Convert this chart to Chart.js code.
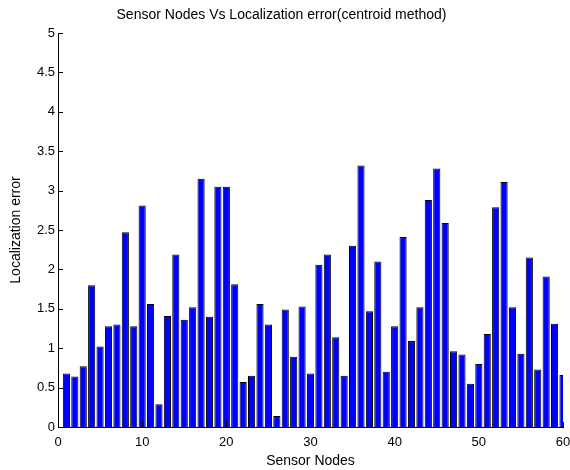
<!DOCTYPE html>
<html>
<head>
<meta charset="utf-8">
<script src="https://cdn.jsdelivr.net/npm/chart.js@4"></script>
<style>
  html, body { margin: 0; padding: 0; background: #fff; }
  #wrap { width: 570px; height: 470px; }
</style>
</head>
<body>
<div id="wrap"><canvas id="errChart" width="570" height="470"></canvas></div>
<script>
// sensor node numbers
const nodes = [];
for (let i = 1; i <= 60; i++) nodes.push(i);

// localization error per node
const errors = [
    0.68, 0.64, 0.77, 1.80, 1.02, 1.28, 1.30, 2.47, 1.28, 2.81,
    1.56, 0.29, 1.41, 2.19, 1.36, 1.52, 3.15, 1.40, 3.05, 3.05,
    1.81, 0.57, 0.65, 1.56, 1.30, 0.14, 1.49, 0.89, 1.53, 0.68,
    2.06, 2.19, 1.14, 0.65, 2.30, 3.32, 1.47, 2.10, 0.70, 1.28,
    2.41, 1.09, 1.52, 2.88, 3.28, 2.59, 0.96, 0.92, 0.55, 0.80,
    1.18, 2.79, 3.11, 1.52, 0.93, 2.15, 0.73, 1.91, 1.31, 0.66
];

const xTicks = [0, 10, 20, 30, 40, 50, 60];
const yTicks = [0, 0.5, 1, 1.5, 2, 2.5, 3, 3.5, 4, 4.5, 5];

const fontFamily = "'Liberation Sans', Arial, sans-serif";

// MATLAB style ticks pointing into the plot
const inwardTicks = {
    id: "inwardTicks",
    afterDatasetsDraw(chart) {
        const ctx = chart.ctx;
        const area = chart.chartArea;
        const xs = chart.scales.x;
        const ys = chart.scales.y;
        ctx.save();
        ctx.strokeStyle = "#000";
        ctx.lineWidth = 1;
        ctx.beginPath();
        yTicks.forEach(v => {
            const y = Math.round(ys.getPixelForValue(v)) + 0.5;
            ctx.moveTo(area.left, y);
            ctx.lineTo(area.left + 5, y);
        });
        xTicks.forEach(v => {
            const x = Math.round(xs.getPixelForValue(v)) + 0.5;
            ctx.moveTo(x, area.bottom);
            ctx.lineTo(x, area.bottom - 5);
        });
        ctx.stroke();
        ctx.restore();
    }
};

new Chart(document.getElementById("errChart"), {
    type: "bar",
    data: {
        datasets: [{
            data: nodes.map((n, i) => ({ x: n, y: errors[i] })),
            backgroundColor: "#0000ff",
            borderColor: "#000",
            borderWidth: 1,
            barPercentage: 0.85,
            categoryPercentage: 1,
            clip: 0
        }]
    },
    options: {
        responsive: false,
        animation: false,
        layout: { padding: { left: 0, right: 7, top: 0, bottom: 0 } },
        plugins: {
            legend: { display: false },
            tooltip: { enabled: false },
            title: {
                display: true,
                text: "Sensor Nodes Vs Localization error(centroid method)",
                color: "#000",
                font: { family: fontFamily, size: 14, weight: "normal" },
                padding: { top: 7, bottom: 9.2 }
            }
        },
        scales: {
            x: {
                type: "linear",
                min: 0,
                max: 60,
                offset: false,
                afterFit: s => { s.height = 43; s.paddingLeft = 0; s.paddingRight = 0; },
                afterBuildTicks: s => { s.ticks = xTicks.map(v => ({ value: v })); },
                grid: { display: false, drawTicks: false, offset: false },
                border: { display: true, color: "#000", width: 1 },
                ticks: {
                    color: "#000",
                    padding: 8,
                    maxRotation: 0,
                    font: { family: fontFamily, size: 13 },
                    callback: v => String(v)
                },
                title: {
                    display: true,
                    text: "Sensor Nodes",
                    color: "#000",
                    font: { family: fontFamily, size: 14 },
                    padding: { top: 2, bottom: 0 }
                }
            },
            y: {
                min: 0,
                max: 5,
                afterFit: s => { s.width = 58; },
                afterBuildTicks: s => { s.ticks = yTicks.map(v => ({ value: v })); },
                grid: { display: false, drawTicks: false },
                border: { display: true, color: "#000", width: 1 },
                ticks: {
                    color: "#000",
                    padding: 3,
                    font: { family: fontFamily, size: 13 },
                    callback: v => String(v)
                },
                title: {
                    display: true,
                    text: "Localization error",
                    color: "#000",
                    font: { family: fontFamily, size: 14 },
                    padding: { top: 8, bottom: 0 }
                }
            }
        }
    },
    plugins: [inwardTicks]
});
</script>
</body>
</html>
